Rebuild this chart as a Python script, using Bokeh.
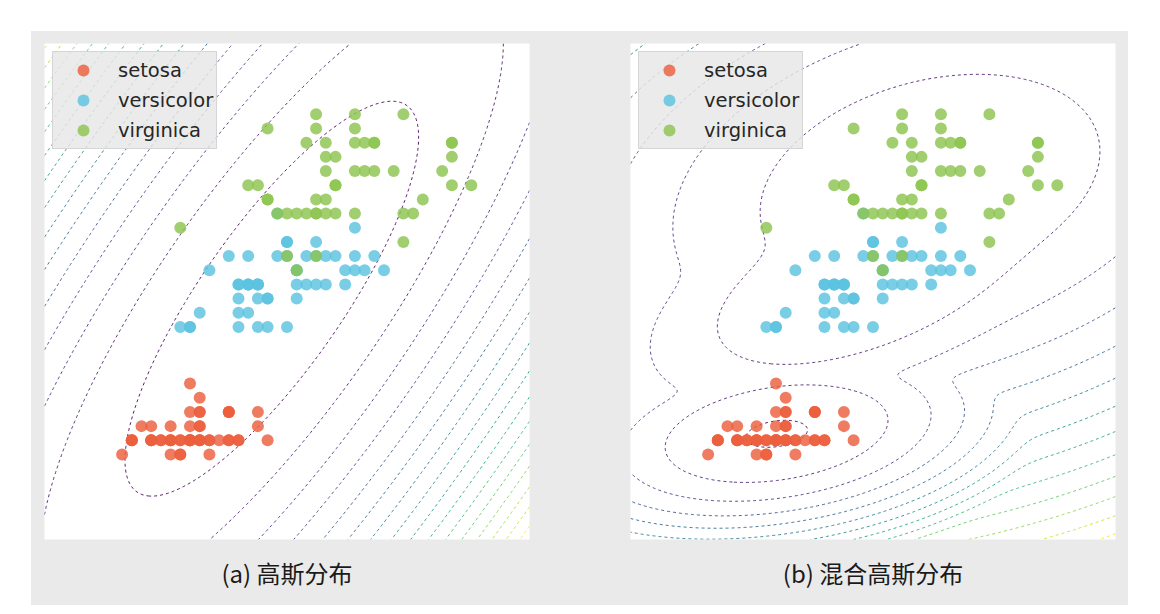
import numpy as np
from bokeh.plotting import figure
from bokeh.layouts import row, column
from bokeh.models import Spacer, Title, Range1d
from bokeh.core.properties import value
from bokeh.palettes import Viridis256
from bokeh.embed import file_html
from bokeh.resources import INLINE

# Iris: sepal length (x) and petal width (y)
setosa_sl = [5.1,4.9,4.7,4.6,5.0,5.4,4.6,5.0,4.4,4.9,5.4,4.8,4.8,4.3,5.8,5.7,5.4,5.1,5.7,5.1,
             5.4,5.1,4.6,5.1,4.8,5.0,5.0,5.2,5.2,4.7,4.8,5.4,5.2,5.5,4.9,5.0,5.5,4.9,4.4,5.1,
             5.0,4.5,4.4,5.0,5.1,4.8,5.1,4.6,5.3,5.0]
setosa_pw = [0.2,0.2,0.2,0.2,0.2,0.4,0.3,0.2,0.2,0.1,0.2,0.2,0.1,0.1,0.2,0.4,0.4,0.3,0.3,0.3,
             0.2,0.4,0.2,0.5,0.2,0.2,0.4,0.2,0.2,0.2,0.2,0.4,0.1,0.2,0.2,0.2,0.2,0.1,0.2,0.2,
             0.3,0.3,0.2,0.6,0.4,0.3,0.2,0.2,0.2,0.2]
versicolor_sl = [7.0,6.4,6.9,5.5,6.5,5.7,6.3,4.9,6.6,5.2,5.0,5.9,6.0,6.1,5.6,6.7,5.6,5.8,6.2,5.6,
                 5.9,6.1,6.3,6.1,6.4,6.6,6.8,6.7,6.0,5.7,5.5,5.5,5.8,6.0,5.4,6.0,6.7,6.3,5.6,5.5,
                 5.5,6.1,5.8,5.0,5.6,5.7,5.7,6.2,5.1,5.7]
versicolor_pw = [1.4,1.5,1.5,1.3,1.5,1.3,1.6,1.0,1.3,1.4,1.0,1.5,1.0,1.4,1.3,1.4,1.5,1.0,1.5,1.1,
                 1.8,1.3,1.5,1.2,1.3,1.4,1.4,1.7,1.5,1.0,1.1,1.0,1.2,1.6,1.5,1.6,1.5,1.3,1.3,1.3,
                 1.2,1.4,1.2,1.0,1.3,1.2,1.3,1.3,1.1,1.3]
virginica_sl = [6.3,5.8,7.1,6.3,6.5,7.6,4.9,7.3,6.7,7.2,6.5,6.4,6.8,5.7,5.8,6.4,6.5,7.7,7.7,6.0,
                6.9,5.6,7.7,6.3,6.7,7.2,6.2,6.1,6.4,7.2,7.4,7.9,6.4,6.3,6.1,7.7,6.3,6.4,6.0,6.9,
                6.7,6.9,5.8,6.8,6.7,6.7,6.3,6.5,6.2,5.9]
virginica_pw = [2.5,1.9,2.1,1.8,2.2,2.1,1.7,1.8,1.8,2.5,2.0,1.9,2.1,2.0,2.4,2.3,1.8,2.2,2.3,1.5,
                2.3,2.0,2.0,1.8,2.1,1.8,1.8,1.8,2.1,1.6,1.9,2.0,2.2,1.5,1.4,2.3,2.4,1.8,1.8,2.1,
                2.4,2.3,1.9,2.3,2.5,2.3,1.9,2.0,2.3,1.8]

species = ["setosa", "versicolor", "virginica"]
species_colors = ["#ec5f3d", "#5bc3e0", "#8cc44f"]
captions = ["(a) 高斯分布", "(b) 混合高斯分布"]

X_RANGE = (3.5, 8.5)
Y_RANGE = (-0.5, 3.0)
N_LEVEL_BINS = 20
NICE_STEPS = [1.0, 2.0, 2.5, 5.0, 10.0]

xs = [setosa_sl, versicolor_sl, virginica_sl]
ys = [setosa_pw, versicolor_pw, virginica_pw]
X = np.column_stack([np.concatenate(xs), np.concatenate(ys)])


def logpdf(P, mu, cov):
    d = P - mu
    inv = np.linalg.inv(cov)
    m = np.einsum("ni,ij,nj->n", d, inv, d)
    return -0.5 * m - np.log(2 * np.pi) - 0.5 * np.log(np.linalg.det(cov))


def mix_nll(P, w, mu, covs):
    lp = np.stack([np.log(w[k]) + logpdf(P, mu[k], covs[k]) for k in range(len(w))], 1)
    mx = lp.max(1, keepdims=True)
    return -(mx[:, 0] + np.log(np.exp(lp - mx).sum(1)))


gx = np.linspace(X_RANGE[0], X_RANGE[1], 320)
gy = np.linspace(Y_RANGE[0], Y_RANGE[1], 320)
GX, GY = np.meshgrid(gx, gy)
P = np.column_stack([GX.ravel(), GY.ravel()])

# single Gaussian fitted to all points
mu1 = X.mean(0)
cov1 = np.cov(X.T, bias=True) + 1e-6 * np.eye(2)
Z1 = mix_nll(P, np.array([1.0]), [mu1], [cov1]).reshape(GX.shape)

# mixture: one Gaussian component per species
comps_w, comps_mu, comps_cov = [], [], []
for sx, sy in zip(xs, ys):
    D = np.column_stack([sx, sy])
    comps_w.append(len(D) / len(X))
    comps_mu.append(D.mean(0))
    comps_cov.append(np.cov(D.T, bias=True) + 1e-6 * np.eye(2))
Z2 = mix_nll(P, np.array(comps_w), comps_mu, comps_cov).reshape(GX.shape)


def make_levels(Z):
    zmin, zmax = float(Z.min()), float(Z.max())
    raw = (zmax - zmin) / N_LEVEL_BINS
    scale = 10 ** np.floor(np.log10(raw))
    step = next(s * scale for s in NICE_STEPS if s * scale >= raw)
    lv = np.arange(np.floor(zmin / step) * step, zmax + step, step)
    lv = lv[(lv > zmin) & (lv < zmax)]
    n = len(lv)
    cols = [Viridis256[int(round(i / max(n - 1, 1) * 255))] for i in range(n)]
    return [float(v) for v in lv], cols


GRAY = "#eaeaeb"


def make_panel(Z, caption, left, right):
    p = figure(width=left + 485 + right, height=12 + 496 + 66,
               x_range=Range1d(*X_RANGE), y_range=Range1d(*Y_RANGE),
               x_axis_location=None, y_axis_location=None,
               toolbar_location=None, output_backend="svg",
               min_border_left=left, min_border_right=right,
               min_border_top=12, min_border_bottom=66)
    p.grid.visible = False
    p.outline_line_color = None
    p.border_fill_color = GRAY
    p.background_fill_color = "white"
    lv, cols = make_levels(Z)
    cr = p.contour(gx, gy, Z, levels=lv, line_color=cols, line_width=1.0, line_alpha=0.9)
    cr.line_renderer.glyph.line_dash = value("3 1.5")
    for sx, sy, name, col in zip(xs, ys, species, species_colors):
        p.scatter(sx, sy, size=12, fill_color=col, line_color=None, fill_alpha=0.82,
                  legend_label=name)
    lg = p.legend[0]
    lg.location = "top_left"
    lg.margin = 8
    lg.padding = 3
    lg.spacing = 0
    lg.glyph_width = 54
    lg.glyph_height = 30
    lg.label_height = 30
    lg.label_standoff = 8
    lg.label_text_font = "DejaVu Sans"
    lg.label_text_font_size = "19.5px"
    lg.label_text_color = "#262626"
    lg.background_fill_color = "#e6e6e6"
    lg.background_fill_alpha = 0.8
    lg.border_line_color = "#d0d0d0"
    lg.border_line_alpha = 0.8
    t = Title(text=caption, align="center", text_font="Noto Sans CJK SC",
              text_font_size="24px", text_font_style="normal", text_color="#1a1a1a",
              standoff=27)
    p.add_layout(t, "below")
    return p


p1 = make_panel(Z1, captions[0], 13, 50)
p2 = make_panel(Z2, captions[1], 51, 13)

panels = row(p1, p2, styles={"background-color": GRAY})
layout = column(Spacer(height=31, width=1100), row(Spacer(width=31, height=574), panels))

open("out.html", "w").write(file_html(layout, INLINE))
